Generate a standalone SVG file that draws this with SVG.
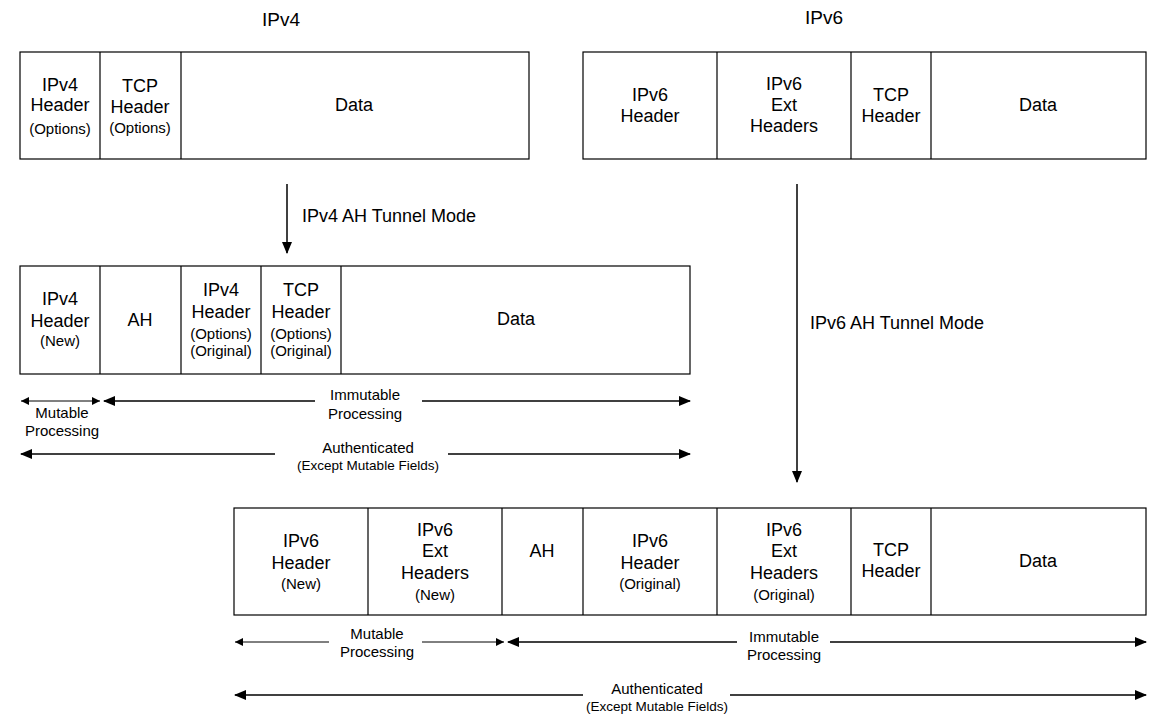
<svg xmlns="http://www.w3.org/2000/svg" width="1160" height="719" viewBox="0 0 1160 719">
<defs>
<style>
text{font-family:"Liberation Sans",Arial,sans-serif;fill:#000;text-anchor:middle;dominant-baseline:central}
.t{font-size:18px}
.s{font-size:15px}
.x{font-size:13.5px}
.tt{font-size:19px}
.l{text-anchor:start}
.b{fill:none;stroke:#000;stroke-width:1.2}
.c{stroke:#000;stroke-width:1.5;fill:none}
.cs{stroke:#000;stroke-width:1;fill:none}
</style>
<marker id="big" markerWidth="12" markerHeight="10" refX="11" refY="5" orient="auto-start-reverse" markerUnits="userSpaceOnUse"><path d="M0,0 L12,5 L0,10 Z" fill="#000"/></marker>
<marker id="sm" markerWidth="8" markerHeight="8" refX="8" refY="4" orient="auto-start-reverse" markerUnits="userSpaceOnUse"><path d="M0,0 L8,4 L0,8 Z" fill="#000"/></marker>
</defs>
<rect width="1160" height="719" fill="#fff"/>
<text class="tt" x="281" y="19">IPv4</text>
<text class="tt" x="824" y="17">IPv6</text>

<g id="ipv4-orig">
<rect class="b" x="20" y="52" width="509" height="107"/>
<path class="b" d="M100,52V159M181,52V159"/>
<text class="t" x="60" y="85">IPv4</text><text class="t" x="60" y="105">Header</text><text class="s" x="60" y="128">(Options)</text>
<text class="t" x="140" y="86">TCP</text><text class="t" x="140" y="107">Header</text><text class="s" x="140" y="127">(Options)</text>
<text class="t" x="354" y="105">Data</text>
</g>

<g id="ipv6-orig">
<rect class="b" x="583" y="52" width="563" height="107"/>
<path class="b" d="M717,52V159M851,52V159M931,52V159"/>
<text class="t" x="650" y="95">IPv6</text><text class="t" x="650" y="116">Header</text>
<text class="t" x="784" y="84">IPv6</text><text class="t" x="784" y="105">Ext</text><text class="t" x="784" y="126">Headers</text>
<text class="t" x="891" y="95">TCP</text><text class="t" x="891" y="116">Header</text>
<text class="t" x="1038" y="105">Data</text>
</g>

<g id="ipv4-tunnel">
<rect class="b" x="20" y="266" width="670" height="108"/>
<path class="b" d="M100,266V374M181,266V374M261,266V374M341,266V374"/>
<text class="t" x="60" y="299">IPv4</text><text class="t" x="60" y="321">Header</text><text class="s" x="60" y="340">(New)</text>
<text class="t" x="140" y="320">AH</text>
<text class="t" x="221" y="290">IPv4</text><text class="t" x="221" y="312">Header</text><text class="s" x="221" y="333">(Options)</text><text class="s" x="221" y="350">(Original)</text>
<text class="t" x="301" y="290">TCP</text><text class="t" x="301" y="312">Header</text><text class="s" x="301" y="333">(Options)</text><text class="s" x="301" y="350">(Original)</text>
<text class="t" x="516" y="319">Data</text>
</g>

<g id="ipv6-tunnel">
<rect class="b" x="234" y="508" width="912" height="107"/>
<path class="b" d="M368,508V615M502,508V615M583,508V615M717,508V615M851,508V615M931,508V615"/>
<text class="t" x="301" y="541">IPv6</text><text class="t" x="301" y="563">Header</text><text class="s" x="301" y="583">(New)</text>
<text class="t" x="435" y="530">IPv6</text><text class="t" x="435" y="551">Ext</text><text class="t" x="435" y="573">Headers</text><text class="s" x="435" y="594">(New)</text>
<text class="t" x="542" y="551">AH</text>
<text class="t" x="650" y="541">IPv6</text><text class="t" x="650" y="563">Header</text><text class="s" x="650" y="583">(Original)</text>
<text class="t" x="784" y="530">IPv6</text><text class="t" x="784" y="551">Ext</text><text class="t" x="784" y="573">Headers</text><text class="s" x="784" y="594">(Original)</text>
<text class="t" x="891" y="550">TCP</text><text class="t" x="891" y="571">Header</text>
<text class="t" x="1038" y="561">Data</text>
</g>

<g id="connectors">
<path class="c" d="M287,184V253" marker-end="url(#big)"/>
<text class="t l" x="302" y="216">IPv4 AH Tunnel Mode</text>
<path class="c" d="M797,184V482" marker-end="url(#big)"/>
<text class="t l" x="810" y="323">IPv6 AH Tunnel Mode</text>

<path class="cs" d="M21,401H100" marker-start="url(#sm)" marker-end="url(#sm)"/>
<text class="s" x="62" y="412">Mutable</text><text class="s" x="62" y="430">Processing</text>
<path class="c" d="M104,401H315" marker-start="url(#big)"/>
<path class="c" d="M422,401H690" marker-end="url(#big)"/>
<text class="s" x="365" y="394">Immutable</text><text class="s" x="365" y="413">Processing</text>
<path class="c" d="M21,454H275" marker-start="url(#big)"/>
<path class="c" d="M448,454H690" marker-end="url(#big)"/>
<text class="s" x="368" y="447">Authenticated</text><text class="x" x="368" y="465">(Except Mutable Fields)</text>

<path class="cs" d="M235,642H329" marker-start="url(#sm)"/>
<path class="cs" d="M422,642H504" marker-end="url(#sm)"/>
<text class="s" x="377" y="633">Mutable</text><text class="s" x="377" y="651">Processing</text>
<path class="c" d="M508,642H737" marker-start="url(#big)"/>
<path class="c" d="M830,642H1146" marker-end="url(#big)"/>
<text class="s" x="784" y="636">Immutable</text><text class="s" x="784" y="654">Processing</text>
<path class="c" d="M235,695H583" marker-start="url(#big)"/>
<path class="c" d="M730,695H1146" marker-end="url(#big)"/>
<text class="s" x="657" y="688">Authenticated</text><text class="x" x="657" y="706">(Except Mutable Fields)</text>
</g>
</svg>
